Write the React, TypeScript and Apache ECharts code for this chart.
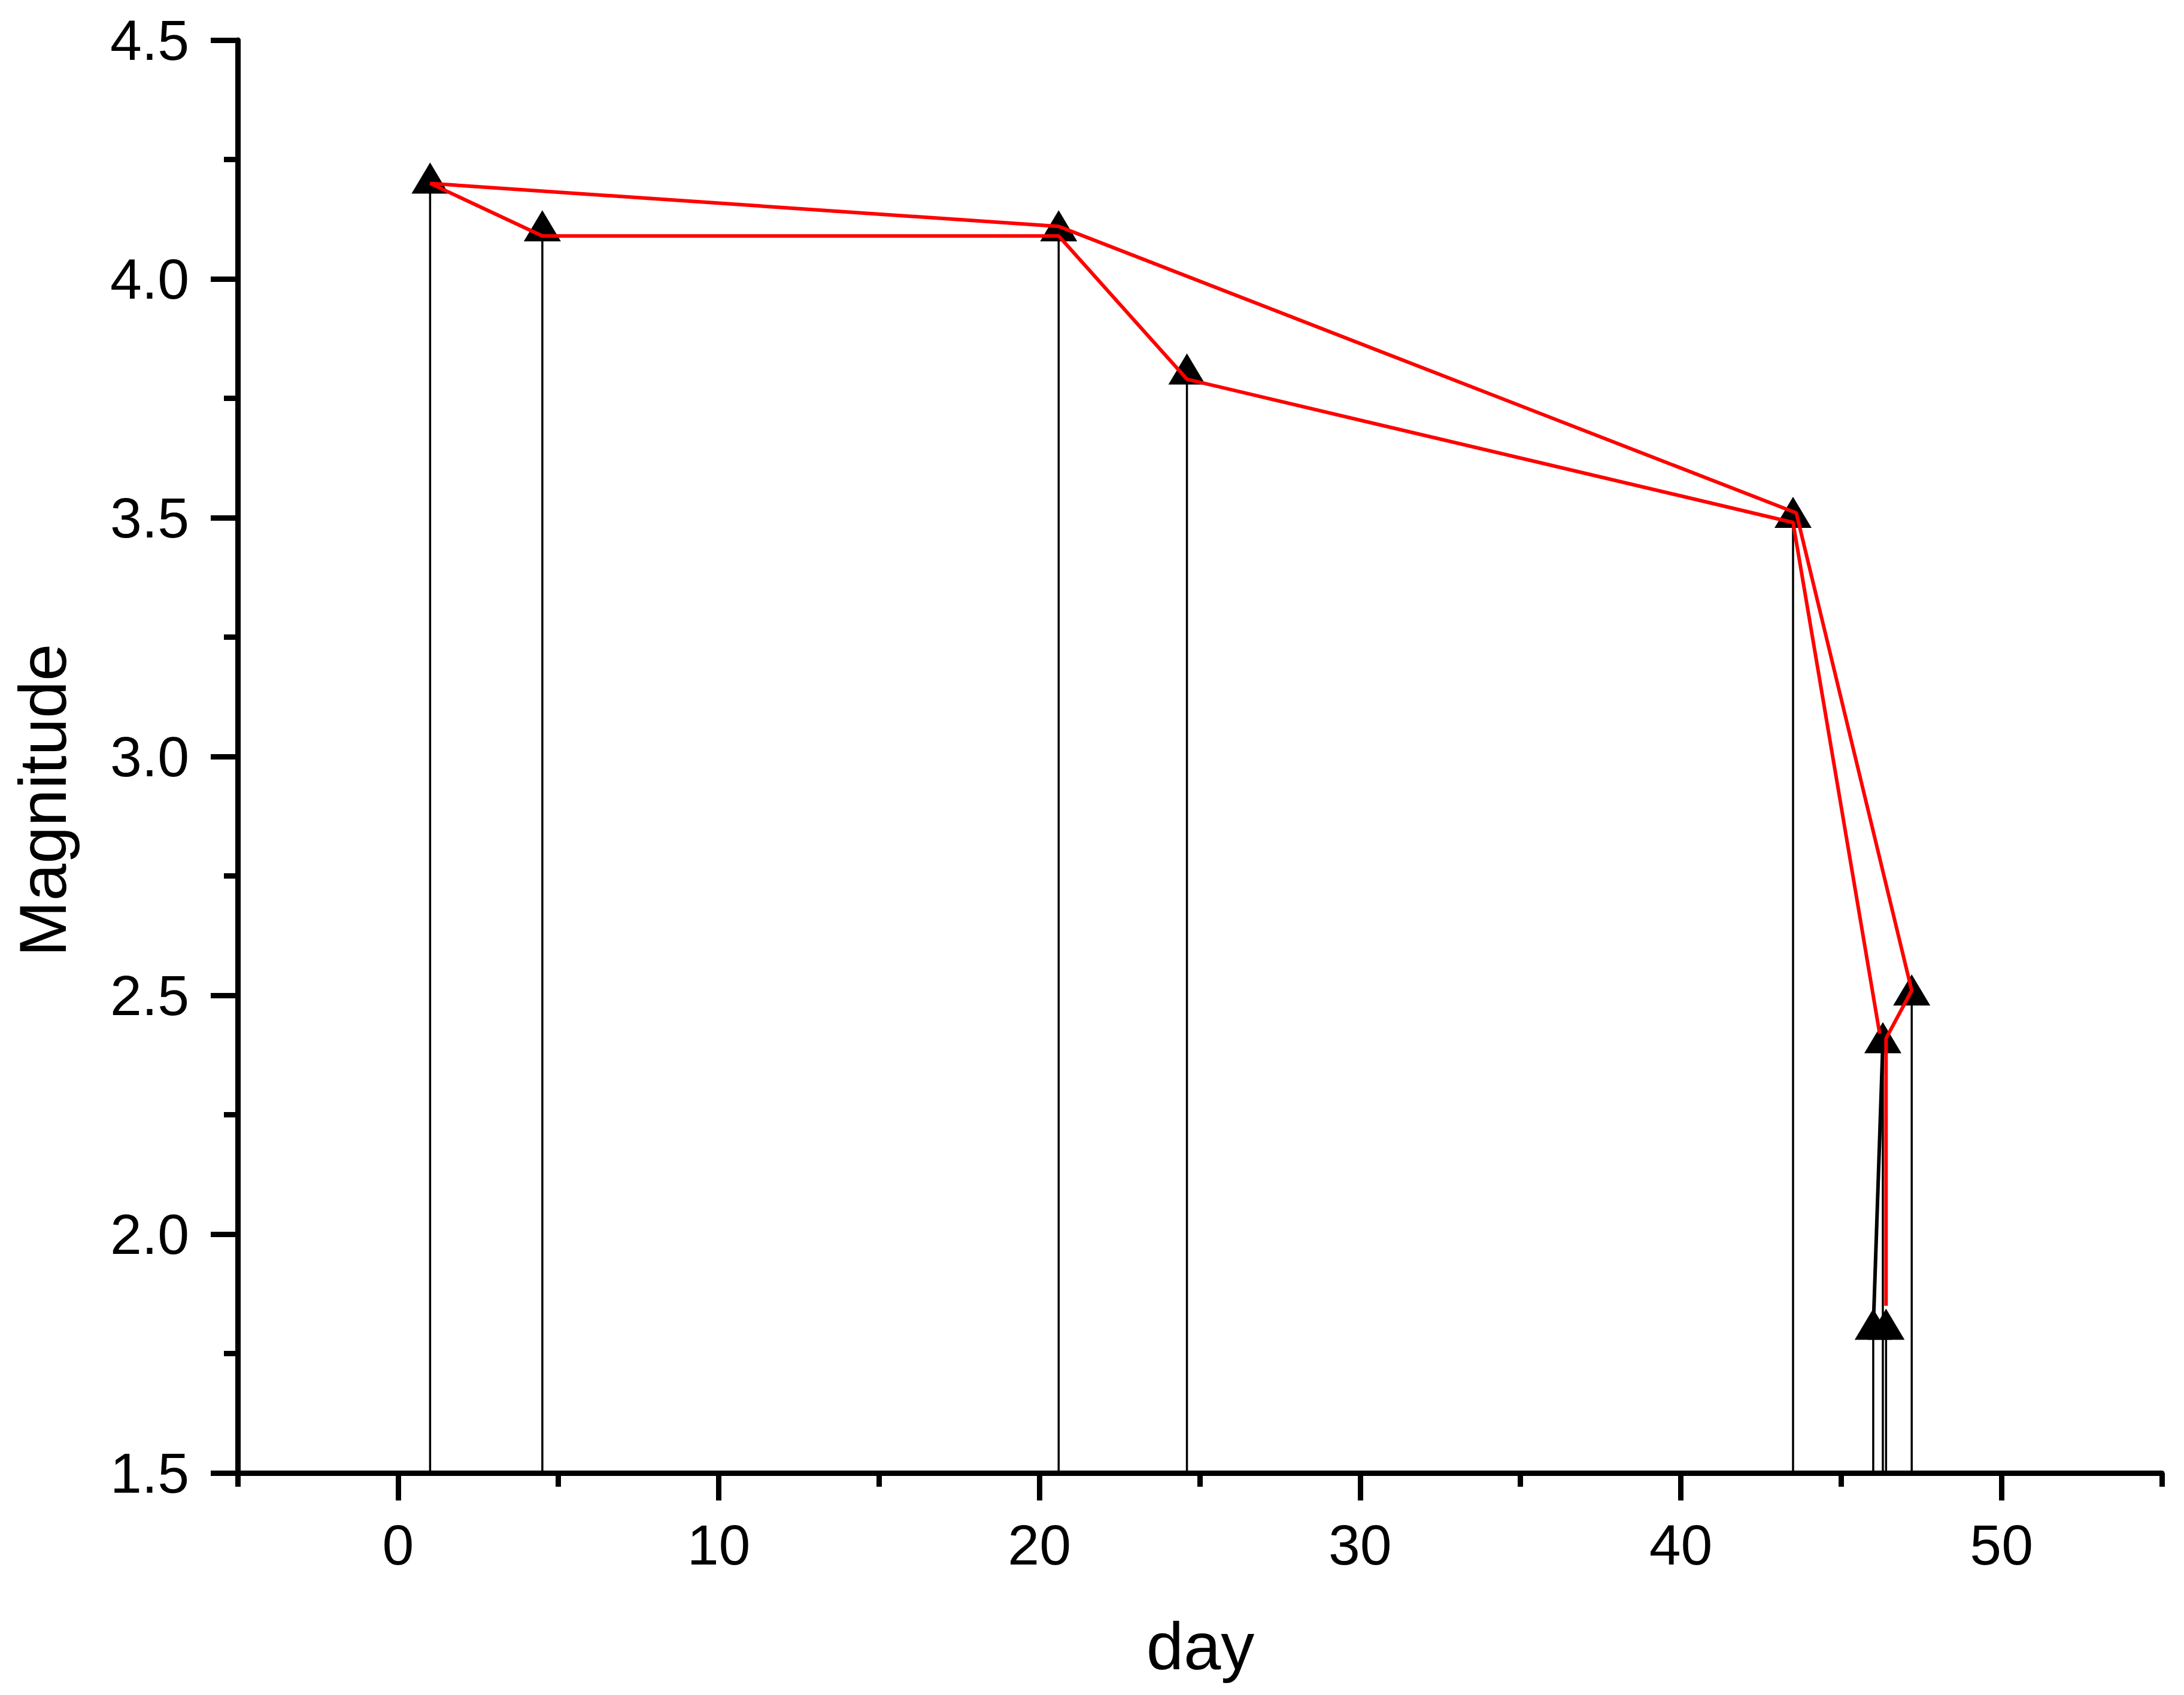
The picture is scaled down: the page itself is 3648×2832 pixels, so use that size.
import { useEffect, useRef } from "react";
import * as echarts from "echarts";

// ---- data ----
const pointDays = [1.0, 4.5, 20.6, 24.6, 43.5, 46.0, 46.3, 46.4, 47.2];
const pointMags = [4.2, 4.1, 4.1, 3.8, 3.5, 1.8, 2.4, 1.8, 2.5];

// red connecting path (order as drawn)
const redDays = [46.4, 46.4, 47.2, 43.6, 20.6, 1.0, 4.5, 20.6, 24.6, 43.5, 46.2];
const redMags = [1.85, 2.41, 2.51, 3.51, 4.11, 4.2, 4.09, 4.09, 3.79, 3.49, 2.42];

// black connecting segment
const blackDays = [46.0, 46.3];
const blackMags = [1.8, 2.4];

const xMajorTicks = [0, 10, 20, 30, 40, 50];
const xMinorTicks = [-5, 5, 15, 25, 35, 45, 55];

const X_MIN = -5;
const X_MAX = 55;
const Y_MIN = 1.5;
const Y_MAX = 4.5;

const FONT = '"Liberation Sans", Arial, Helvetica, sans-serif';

export default function App() {
  const ref = useRef<HTMLDivElement>(null);

  useEffect(() => {
    const chart = echarts.init(ref.current!, null, { renderer: "svg" });

    const points = pointDays.map((d, i) => [d, pointMags[i]]);
    const red = redDays.map((d, i) => [d, redMags[i]]);
    const black = blackDays.map((d, i) => [d, blackMags[i]]);

    const gridBox = { left: 397, top: 67, width: 3214, height: 2394 };

    chart.setOption({
      animation: false,
      backgroundColor: "#ffffff",
      grid: [
        { ...gridBox, outerBoundsMode: "none" },
        { ...gridBox, outerBoundsMode: "none" },
      ],
      xAxis: [
        {
          type: "value",
          gridIndex: 0,
          min: X_MIN,
          max: X_MAX,
          position: "bottom",
          splitLine: { show: false },
          axisLine: { show: true, onZero: false, lineStyle: { color: "#000", width: 9 } },
          axisTick: {
            show: true,
            inside: false,
            length: 46,
            customValues: xMajorTicks,
            lineStyle: { color: "#000", width: 9 },
          },
          axisLabel: {
            show: true,
            customValues: xMajorTicks,
            margin: 72,
            fontSize: 95,
            fontFamily: FONT,
            color: "#000",
          },
        },
        {
          type: "value",
          gridIndex: 1,
          min: X_MIN,
          max: X_MAX,
          position: "bottom",
          splitLine: { show: false },
          axisLine: { show: false, onZero: false },
          axisTick: {
            show: true,
            inside: false,
            length: 23,
            customValues: xMinorTicks,
            lineStyle: { color: "#000", width: 9 },
          },
          axisLabel: { show: false },
        },
      ],
      yAxis: [
        {
          type: "value",
          gridIndex: 0,
          min: Y_MIN,
          max: Y_MAX,
          interval: 0.5,
          position: "left",
          splitLine: { show: false },
          axisLine: { show: true, onZero: false, lineStyle: { color: "#000", width: 9 } },
          axisTick: {
            show: true,
            inside: false,
            length: 45,
            lineStyle: { color: "#000", width: 9 },
          },
          minorTick: {
            show: true,
            splitNumber: 2,
            length: 23,
            lineStyle: { color: "#000", width: 9 },
          },
          axisLabel: {
            margin: 81,
            fontSize: 95,
            fontFamily: FONT,
            color: "#000",
            formatter: (v: number) => v.toFixed(1),
          },
        },
        {
          type: "value",
          gridIndex: 1,
          min: Y_MIN,
          max: Y_MAX,
          show: false,
          axisLine: { onZero: false },
        },
      ],
      graphic: [
        {
          type: "text",
          x: 2005,
          y: 2750,
          style: {
            text: "day",
            fontSize: 112,
            fontFamily: FONT,
            fill: "#000",
            align: "center",
            verticalAlign: "middle",
          },
        },
        {
          type: "text",
          x: 71,
          y: 1337,
          rotation: Math.PI / 2,
          style: {
            text: "Magnitude",
            fontSize: 112,
            fontFamily: FONT,
            fill: "#000",
            align: "center",
            verticalAlign: "middle",
          },
        },
      ],
      series: [
        {
          name: "drop lines",
          type: "custom",
          xAxisIndex: 0,
          yAxisIndex: 0,
          z: 1,
          data: points,
          encode: { x: 0, y: 1 },
          renderItem: (_params: any, api: any) => {
            const x = api.value(0);
            const y = api.value(1);
            const top = api.coord([x, y]);
            const bot = api.coord([x, Y_MIN]);
            return {
              type: "line",
              shape: { x1: top[0], y1: top[1], x2: bot[0], y2: bot[1] },
              style: { stroke: "#000", lineWidth: 3.5 },
            };
          },
        },
        {
          name: "black segment",
          type: "line",
          xAxisIndex: 0,
          yAxisIndex: 0,
          z: 2,
          data: black,
          showSymbol: false,
          symbol: "none",
          lineStyle: { color: "#000", width: 6, join: "bevel" },
        },
        {
          name: "Magnitude",
          type: "scatter",
          xAxisIndex: 0,
          yAxisIndex: 0,
          z: 3,
          data: points,
          symbol: "triangle",
          symbolSize: [62, 52],
          symbolOffset: [0, -9],
          itemStyle: { color: "#000", opacity: 1 },
        },
        {
          name: "path",
          type: "line",
          xAxisIndex: 0,
          yAxisIndex: 0,
          z: 4,
          data: red,
          showSymbol: false,
          symbol: "none",
          lineStyle: { color: "#ff0000", width: 6, join: "bevel", cap: "butt", opacity: 1 },
        },
      ],
    });

    return () => chart.dispose();
  }, []);

  return (
    <div
      ref={ref}
      style={{
        position: "fixed",
        left: 0,
        top: 0,
        width: 3648,
        height: 2832,
        background: "#ffffff",
      }}
    />
  );
}
